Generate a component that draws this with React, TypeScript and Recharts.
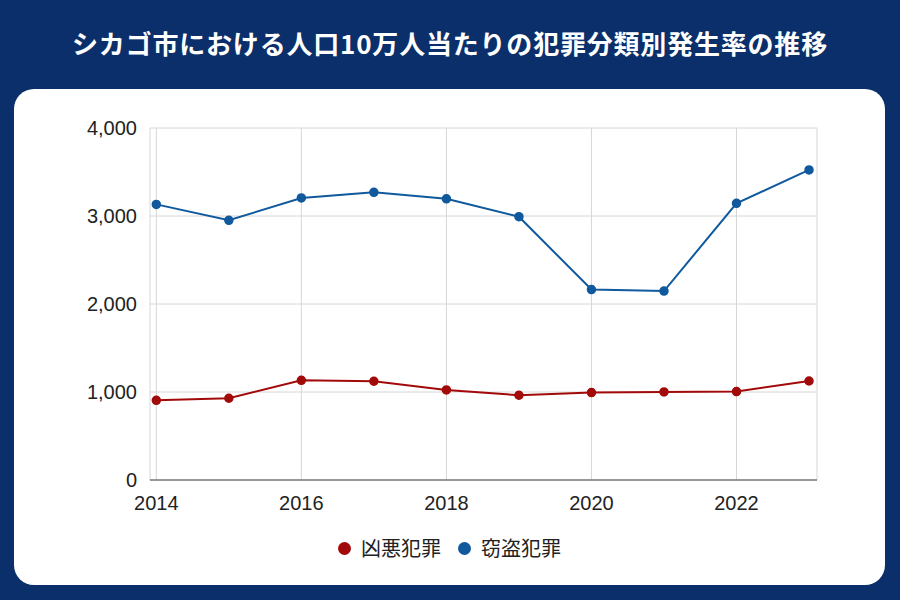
import React from 'react';
import { LineChart, Line, XAxis, YAxis, CartesianGrid, Legend } from 'recharts';

const years = [2014, 2015, 2016, 2017, 2018, 2019, 2020, 2021, 2022, 2023];
const violentCrime = [906, 929, 1133, 1122, 1023, 963, 994, 1001, 1005, 1125];
const theftCrime = [3132, 2951, 3205, 3269, 3195, 2992, 2164, 2147, 3144, 3524];
const xTicks = [2014, 2016, 2018, 2020, 2022];
const yTicks = [0, 1000, 2000, 3000, 4000];
const seriesNames = ['凶悪犯罪', '窃盗犯罪'];
const title = 'シカゴ市における人口10万人当たりの犯罪分類別発生率の推移';

const data = years.map((y, i) => ({ year: y, violent: violentCrime[i], theft: theftCrime[i] }));

const RED = '#a20a0a';
const BLUE = '#10599d';
const NAVY = '#0b2f6b';

const renderLegend = (props: any) => {
  const payload = props.payload || [];
  return (
    <div style={{ display: 'flex', justifyContent: 'center', alignItems: 'center', height: 26 }}>
      {payload.map((p: any, i: number) => (
        <div key={i} style={{ display: 'flex', alignItems: 'center', marginLeft: i === 0 ? 0 : 17 }}>
          <span style={{ display: 'inline-block', width: 13, height: 13, borderRadius: '50%', background: p.color, marginRight: 10 }} />
          <span style={{ fontFamily: '"Noto Sans CJK JP", sans-serif', fontSize: 20, color: '#222', lineHeight: '26px' }}>{p.value}</span>
        </div>
      ))}
    </div>
  );
};

export default function App() {
  return (
    <div style={{ position: 'absolute', left: 0, top: 0, width: 900, height: 600, background: NAVY, overflow: 'hidden' }}>
      <div style={{ position: 'absolute', left: 0, top: 25, width: 900, textAlign: 'center', color: '#fff', fontFamily: '"Noto Sans CJK JP", sans-serif', fontWeight: 700, fontSize: 26, letterSpacing: 0.8, lineHeight: '36px' }}>
        {title}
      </div>
      <div style={{ position: 'absolute', left: 14, top: 89, width: 871, height: 496, background: '#fff', borderRadius: 20 }}>
        <LineChart width={871} height={496} data={data} margin={{ top: 39, right: 68, left: 66, bottom: 75 }}>
          <CartesianGrid stroke="#d6d6d6" strokeWidth={1} />
          <XAxis
            dataKey="year"
            type="number"
            domain={[2013.913, 2023.11]}
            ticks={xTicks}
            allowDataOverflow
            height={30}
            tickLine={false}
            tickSize={0}
            tickMargin={16}
            axisLine={{ stroke: '#444', strokeWidth: 1 }}
            tick={{ fill: '#222', fontSize: 20, fontFamily: '"Liberation Sans", Arial, sans-serif' }}
          />
          <YAxis
            width={70}
            domain={[0, 4000]}
            ticks={yTicks}
            axisLine={false}
            tickLine={false}
            tickSize={0}
            tickMargin={13}
            tickFormatter={(v: number) => v.toLocaleString('en-US')}
            tick={{ fill: '#222', fontSize: 20, fontFamily: '"Liberation Sans", Arial, sans-serif' }}
          />
          <Legend
            verticalAlign="middle"
            align="center"
            layout="horizontal"
            content={renderLegend}
            wrapperStyle={{ top: 446, left: 0, width: 871 }}
          />
          <Line
            type="linear"
            dataKey="violent"
            name={seriesNames[0]}
            stroke={RED}
            strokeWidth={2}
            dot={{ r: 4, fill: RED, stroke: RED, strokeWidth: 1.5 }}
            isAnimationActive={false}
          />
          <Line
            type="linear"
            dataKey="theft"
            name={seriesNames[1]}
            stroke={BLUE}
            strokeWidth={2}
            dot={{ r: 4, fill: BLUE, stroke: BLUE, strokeWidth: 1.5 }}
            isAnimationActive={false}
          />
        </LineChart>
      </div>
    </div>
  );
}
